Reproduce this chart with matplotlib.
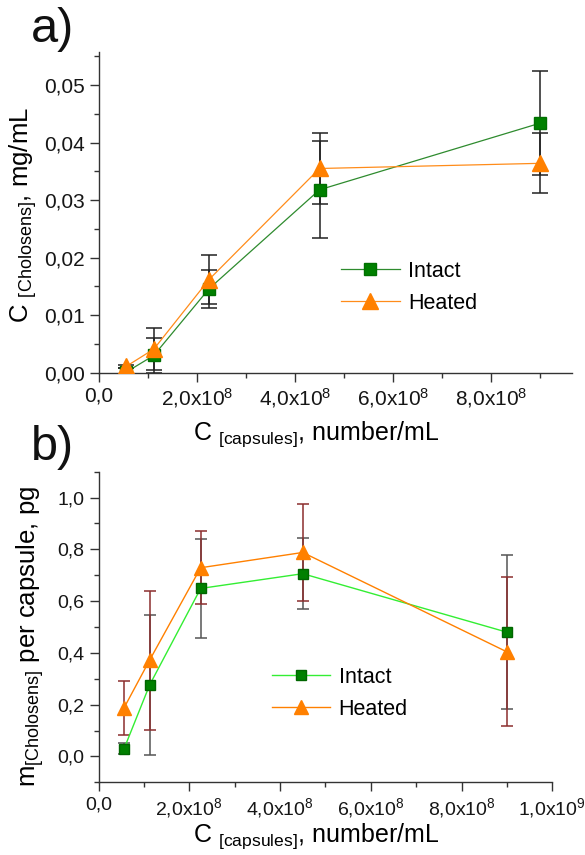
import numpy as np
import matplotlib
matplotlib.use("Agg")
import matplotlib.pyplot as plt
from matplotlib.ticker import MultipleLocator, FuncFormatter

plt.rcParams['font.family'] = ['Liberation Sans', 'DejaVu Sans']
plt.rcParams['mathtext.fontset'] = 'custom'
plt.rcParams['mathtext.rm'] = 'Liberation Sans'
plt.rcParams['mathtext.it'] = 'Liberation Sans'
plt.rcParams['mathtext.bf'] = 'Liberation Sans:bold'

# capsule concentration, number/mL
capsules = [0.5625e8, 1.125e8, 2.25e8, 4.5e8, 9.0e8]

# a) Cholosens concentration, mg/mL
conc_intact = [0.0001, 0.0030, 0.0146, 0.0318, 0.0434]
conc_intact_err = [0.0007, 0.0030, 0.0033, 0.0084, 0.0091]
conc_heated = [0.0011, 0.0041, 0.0162, 0.0355, 0.0364]
conc_heated_err = [0.0003, 0.0036, 0.0043, 0.0062, 0.0052]

# b) Cholosens mass per capsule, pg
mass_intact = [0.030, 0.276, 0.649, 0.706, 0.480]
mass_intact_err = [0.020, 0.270, 0.190, 0.138, 0.298]
mass_heated = [0.188, 0.372, 0.729, 0.788, 0.404]
mass_heated_err = [0.105, 0.268, 0.142, 0.187, 0.288]

labels = ["Intact", "Heated"]


def x_fmt(v, pos):
    if abs(v) < 1:
        return "0,0"
    if v < 0:
        return ""
    exp = int(np.floor(np.log10(v) + 1e-9))
    mant = v / 10 ** exp
    return ("%.1f" % mant).replace(".", ",") + "x$\\mathregular{10^{%d}}$" % exp


def y_fmt(decimals):
    def f(v, pos):
        if abs(v) < 1e-9:
            v = 0.0
        return ("%.*f" % (decimals, v)).replace(".", ",")
    return f


def style_axes(ax, tsize):
    ax.spines['top'].set_visible(False)
    ax.spines['right'].set_visible(False)
    for s in ['left', 'bottom']:
        ax.spines[s].set_linewidth(1.0)
        ax.spines[s].set_color('#333333')
    ax.tick_params(which='major', direction='out', length=6.5, width=1,
                   labelsize=tsize, colors='#333333', labelcolor='#161616')
    ax.tick_params(which='minor', direction='out', length=3.5, width=1,
                   colors='#333333')
    ax.xaxis.set_major_formatter(FuncFormatter(x_fmt))


fig = plt.figure(figsize=(5.85, 8.55), dpi=100)

# ---- panel a
ax1 = fig.add_axes([0.1685, 0.5641, 0.8091, 0.3754])
ax1.errorbar(capsules, conc_intact, yerr=conc_intact_err, fmt='none',
             ecolor='#222222', elinewidth=1.1, capsize=6, capthick=1.1, zorder=2)
ax1.errorbar(capsules, conc_heated, yerr=conc_heated_err, fmt='none',
             ecolor='#222222', elinewidth=1.1, capsize=6, capthick=1.1, zorder=2)
ax1.plot(capsules, conc_intact, '-', color='#2E8B2E', lw=0.9, marker='s', ms=8,
         mfc='#008000', mec='#007000', label=labels[0], zorder=3)
ax1.plot(capsules, conc_heated, '-', color='#FF8C1A', lw=0.9, marker='^', ms=11,
         mfc='#FF8000', mec='#FF8000', label=labels[1], zorder=3)
ax1.set_xlim(0, 9.64e8)
ax1.set_ylim(0, 0.0558)
ax1.yaxis.set_major_locator(MultipleLocator(0.01))
ax1.yaxis.set_minor_locator(MultipleLocator(0.005))
ax1.xaxis.set_major_locator(MultipleLocator(2e8))
ax1.xaxis.set_minor_locator(MultipleLocator(1e8))
style_axes(ax1, 15)
ax1.yaxis.set_major_formatter(FuncFormatter(y_fmt(2)))
ax1.set_ylabel("C $_{\\mathregular{[Cholosens]}}$, mg/mL", fontsize=18.5)
ax1.yaxis.set_label_coords(-0.125, 0.49)
ax1.set_xlabel("C $_{\\mathregular{[capsules]}}$, number/mL", fontsize=18)
ax1.xaxis.set_label_coords(0.46, -0.145)
ax1.legend(loc='center left', bbox_to_anchor=(0.513, 0.266), frameon=False,
           fontsize=15.5, handlelength=2.7, handletextpad=0.4, labelspacing=0.5,
           borderpad=0, borderaxespad=0)
fig.text(0.052, 0.951, "a)", fontsize=35, color='#111111')

# ---- panel b
ax2 = fig.add_axes([0.1685, 0.0850, 0.7756, 0.3633])
ax2.errorbar(capsules, mass_intact, yerr=mass_intact_err, fmt='none',
             ecolor='#555555', elinewidth=1.1, capsize=4.5, capthick=1.1, zorder=2)
ax2.errorbar(capsules, mass_heated, yerr=mass_heated_err, fmt='none',
             ecolor='#8B2E2E', elinewidth=1.1, capsize=4.5, capthick=1.1, zorder=2)
ax2.plot(capsules, mass_intact, '-', color='#33EE33', lw=1.0, marker='s', ms=7,
         mfc='#008000', mec='#006600', label=labels[0], zorder=3)
ax2.plot(capsules, mass_heated, '-', color='#FF8000', lw=1.0, marker='^', ms=10,
         mfc='#FF8000', mec='#FF8000', label=labels[1], zorder=3)
ax2.set_xlim(0, 1.0e9)
ax2.set_ylim(-0.1, 1.1)
ax2.yaxis.set_major_locator(MultipleLocator(0.2))
ax2.yaxis.set_minor_locator(MultipleLocator(0.1))
ax2.xaxis.set_major_locator(MultipleLocator(2e8))
ax2.xaxis.set_minor_locator(MultipleLocator(1e8))
style_axes(ax2, 14)
ax2.yaxis.set_major_formatter(FuncFormatter(y_fmt(1)))
ax2.set_ylabel("m$_{\\mathregular{[Cholosens]}}$ per capsule, pg", fontsize=18.5)
ax2.yaxis.set_label_coords(-0.115, 0.47)
ax2.set_xlabel("C $_{\\mathregular{[capsules]}}$, number/mL", fontsize=18)
ax2.xaxis.set_label_coords(0.48, -0.125)
ax2.legend(loc='center left', bbox_to_anchor=(0.382, 0.287), frameon=False,
           fontsize=15.5, handlelength=2.7, handletextpad=0.4, labelspacing=0.5,
           borderpad=0, borderaxespad=0)
fig.text(0.052, 0.462, "b)", fontsize=35, color='#111111')

fig.savefig("out.png", dpi=100)
